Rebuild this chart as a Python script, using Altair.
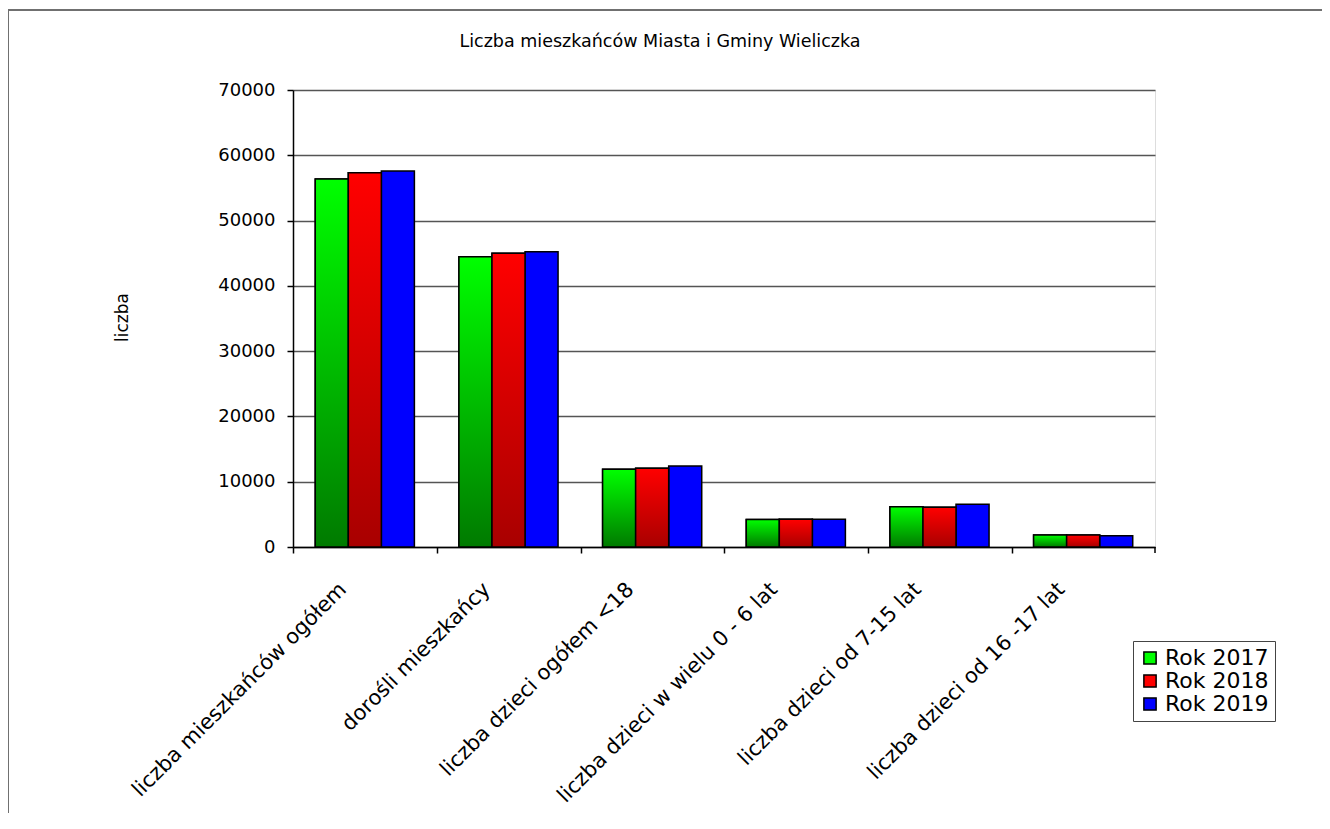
import altair as alt
import pandas as pd

categories = [
    "liczba mieszkańców ogółem",
    "dorośli mieszkańcy",
    "liczba dzieci ogółem <18",
    "liczba dzieci w wielu 0 - 6 lat",
    "liczba dzieci od 7-15 lat",
    "liczba dzieci od 16 -17 lat",
]
years = ["Rok 2017", "Rok 2018", "Rok 2019"]
v2017 = [56360, 44460, 11900, 4230, 6170, 1840]
v2018 = [57330, 44980, 12050, 4240, 6080, 1840]
v2019 = [57590, 45230, 12410, 4250, 6540, 1730]
colors = ["#00FF00", "#FF0000", "#0000FF"]

rows = []
for y, vals in zip(years, [v2017, v2018, v2019]):
    for c, v in zip(categories, vals):
        rows.append({"kategoria": c, "rok": y, "liczba": v})
df = pd.DataFrame(rows)

FONT = "DejaVu Sans"

x_enc = alt.X(
    "kategoria:N",
    sort=categories,
    scale=alt.Scale(paddingInner=0.31, paddingOuter=0.155),
    axis=alt.Axis(
        title=None,
        labelAngle=-45,
        labelAlign="right",
        labelBaseline="middle",
        labelFontSize=21,
        labelFont=FONT,
        labelColor="black",
        bandPosition=0,
        tickOffset=-22,
        labelOffset=0,
        labelPadding=33,
        tickSize=6,
        tickColor="black",
        domainColor="black",
        domainWidth=1.5,
        tickWidth=1.5,
        labelLimit=500,
        grid=False,
    ),
)
y_enc = alt.Y(
    "liczba:Q",
    scale=alt.Scale(domain=[0, 70000], nice=False),
    axis=alt.Axis(
        title="liczba",
        values=[0, 10000, 20000, 30000, 40000, 50000, 60000, 70000],
        format="d",
        labelFontSize=18,
        labelFont=FONT,
        labelColor="black",
        labelPadding=12,
        tickSize=6,
        tickColor="black",
        tickWidth=1.5,
        domainColor="black",
        domainWidth=1.5,
        gridColor="#555555",
        gridWidth=1.3,
        titleFont=FONT,
        titleFontSize=17,
        titleFontWeight="normal",
        titleColor="black",
        titleAngle=270,
        titleAlign="center",
        titleBaseline="middle",
        titleX=-171,
        titleY=227,
    ),
)
xoff = alt.XOffset("rok:N", scale=alt.Scale(domain=years, paddingInner=0, paddingOuter=0))

base = alt.Chart(df).mark_bar(stroke="black", strokeWidth=1.5).encode(
    x=x_enc,
    y=y_enc,
    xOffset=xoff,
    color=alt.Color(
        "rok:N",
        scale=alt.Scale(domain=years, range=colors),
        legend=alt.Legend(
            title=None,
            orient="none",
            legendX=840,
            legendY=551,
            symbolType="square",
            symbolSize=150,
            symbolStrokeColor="black",
            symbolStrokeWidth=1.5,
            labelFont=FONT,
            labelFontSize=22,
            labelColor="black",
            strokeColor="#444444",
            padding=6,
            rowPadding=1,
            labelOffset=4,
        ),
    ),
)

green_grad = alt.Gradient(
    gradient="linear",
    stops=[alt.GradientStop(color="#00FF00", offset=0), alt.GradientStop(color="#007A00", offset=1)],
    x1=0, x2=0, y1=0, y2=1,
)
red_grad = alt.Gradient(
    gradient="linear",
    stops=[alt.GradientStop(color="#FF0000", offset=0), alt.GradientStop(color="#A80000", offset=1)],
    x1=0, x2=0, y1=0, y2=1,
)

g2017 = alt.Chart(df).transform_filter(alt.datum.rok == "Rok 2017").mark_bar(
    fill=green_grad, stroke="black", strokeWidth=1.5
).encode(x=x_enc, y=y_enc, xOffset=xoff)
g2018 = alt.Chart(df).transform_filter(alt.datum.rok == "Rok 2018").mark_bar(
    fill=red_grad, stroke="black", strokeWidth=1.5
).encode(x=x_enc, y=y_enc, xOffset=xoff)

deco = alt.Data(values=[{"f": 1}])
frame_top = alt.Chart(deco).mark_rule(color="#707070", strokeWidth=2).encode(
    x=alt.value(-285), x2=alt.value(1200), y=alt.value(-80)
)
frame_left = alt.Chart(deco).mark_rule(color="#707070", strokeWidth=2).encode(
    x=alt.value(-285), y=alt.value(-80), y2=alt.value(900)
)
end_tick = alt.Chart(deco).mark_rule(color="black", strokeWidth=1.5).encode(
    x=alt.value(862), y=alt.value(457), y2=alt.value(463)
)

chart = alt.layer(base, g2017, g2018, frame_top, frame_left, end_tick).properties(
    width=862,
    height=457,
    autosize=alt.AutoSizeParams(type="none"),
    padding={"left": 285, "top": 82, "right": 167, "bottom": 266},
    title=alt.TitleParams(
        text="Liczba mieszkańców Miasta i Gminy Wieliczka",
        font=FONT,
        fontSize=17.5,
        fontWeight="normal",
        color="black",
        anchor="middle",
        dx=-64,
        offset=-55,
        baseline="alphabetic",
    ),
).configure_view(stroke="#bbbbbb", strokeWidth=1.5).configure(background="white")

chart.save("out.html", embed_options={"renderer": "svg", "actions": False})
